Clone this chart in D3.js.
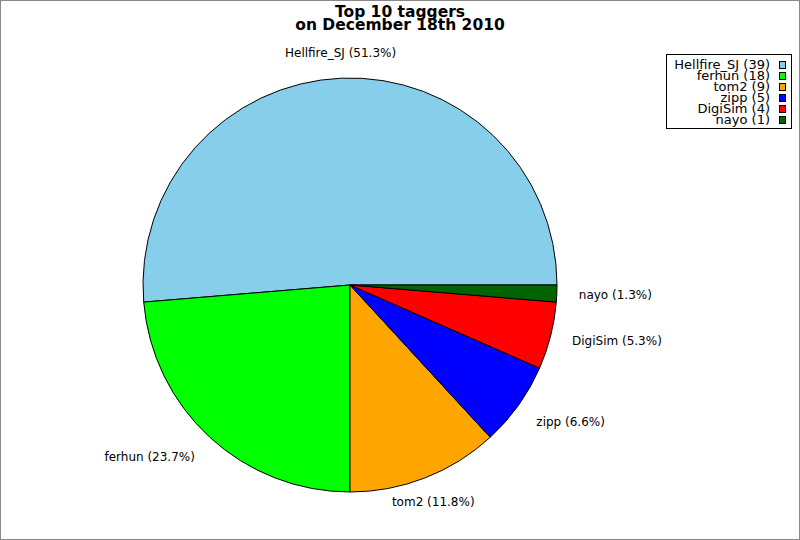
<!DOCTYPE html>
<html>
<head>
<meta charset="utf-8">
<script src="https://cdn.jsdelivr.net/npm/d3@7/dist/d3.min.js"></script>
<style>
  html, body { margin: 0; padding: 0; background: #fff; }
  svg { display: block; }
  text { font-family: "DejaVu Sans", sans-serif; }
</style>
</head>
<body>
<svg id="chart" width="800" height="540"></svg>
<script>
const names = ["Hellfire_SJ", "ferhun", "tom2", "zipp", "DigiSim", "nayo"];
const counts = [39, 18, 9, 5, 4, 1];
const colors = ["#87CEEB", "#00FF00", "#FFA500", "#0000FF", "#FF0000", "#006400"];
const titleLines = ["Top 10 taggers", "on December 18th 2010"];

const W = 800, H = 540;
const cx = 350, cy = 285, r = 207, labelR = 229;
const svg = d3.select("#chart");

svg.append("rect").attr("x", 0.5).attr("y", 0.5).attr("width", W - 1).attr("height", H - 1)
  .attr("fill", "#fff").attr("stroke", "#888").attr("stroke-width", 1);

// title
svg.selectAll("text.title").data(titleLines).enter().append("text")
  .attr("class", "title")
  .attr("x", 400).attr("y", (d, i) => 17 + i * 12.6)
  .attr("text-anchor", "middle")
  .style("font-size", "15.5px").style("font-weight", "bold")
  .text(d => d);

const data = names.map((n, i) => ({ name: n, value: counts[i], color: colors[i] }));
const total = d3.sum(counts);

const pie = d3.pie().value(d => d.value).sort(null)
  .startAngle(Math.PI / 2).endAngle(Math.PI / 2 - 2 * Math.PI);
const arcs = pie(data);
const arc = d3.arc().innerRadius(0).outerRadius(r);

const g = svg.append("g").attr("transform", `translate(${cx},${cy})`);
g.selectAll("path").data(arcs).enter().append("path")
  .attr("d", arc)
  .attr("fill", d => d.data.color)
  .attr("stroke", "#000").attr("stroke-width", 1).attr("stroke-linejoin", "round");

const fmt = d3.format(".1f");
g.selectAll("text.lbl").data(arcs).enter().append("text")
  .attr("class", "lbl")
  .each(function (d) {
    const a = (d.startAngle + d.endAngle) / 2;
    const sx = Math.sin(a), sy = -Math.cos(a);
    const anchor = sx > 0.5 ? "start" : (sx < -0.5 ? "end" : "middle");
    const yOff = Math.abs(sy) > 0.5 ? 3.5 * Math.sign(sy) : 0;
    d3.select(this)
      .attr("x", labelR * sx).attr("y", labelR * sy + yOff)
      .attr("dy", "0.35em")
      .attr("text-anchor", anchor);
  })
  .style("font-size", "12px").attr("fill", "#000")
  .text(d => `${d.data.name} (${fmt(d.data.value / total * 100)}%)`);

// legend
const lg = svg.append("g");
lg.append("rect").attr("x", 666.5).attr("y", 54.5).attr("width", 125).attr("height", 74)
  .attr("fill", "#fff").attr("stroke", "#000").attr("stroke-width", 1);
const rowY = i => 69 + i * 11;
lg.selectAll("text").data(data).enter().append("text")
  .attr("x", 770).attr("y", (d, i) => rowY(i))
  .attr("text-anchor", "end")
  .style("font-size", "13px").attr("fill", "#000")
  .text(d => `${d.name} (${d.value})`);
lg.selectAll("rect.sw").data(data).enter().append("rect")
  .attr("class", "sw")
  .attr("x", 779.5).attr("y", (d, i) => rowY(i) - 7.5)
  .attr("width", 6).attr("height", 7)
  .attr("fill", d => d.color).attr("stroke", "#000").attr("stroke-width", 1);
</script>
</body>
</html>
